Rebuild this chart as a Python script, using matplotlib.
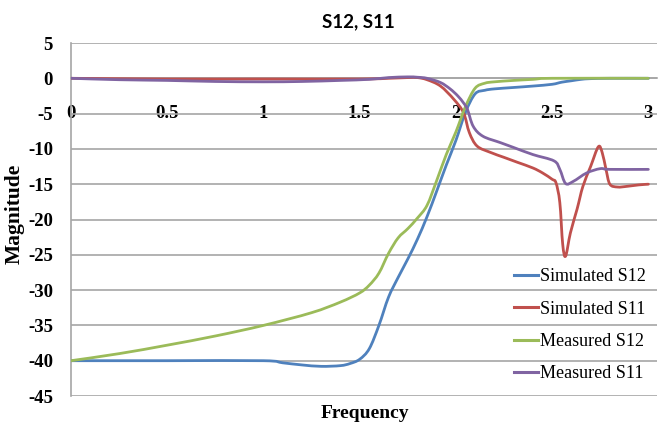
import matplotlib
matplotlib.use("Agg")
import matplotlib.pyplot as plt
from matplotlib.path import Path
from matplotlib.patches import PathPatch
from matplotlib.lines import Line2D

plt.rcParams["axes.unicode_minus"] = False

# ---------------- data ----------------
sim_s12_f = [0, 0.5, 1.0, 1.1, 1.2, 1.3, 1.4, 1.45, 1.5, 1.55, 1.6, 1.65, 1.7, 1.75, 1.8, 1.85, 1.9, 1.95,
             2.0, 2.05, 2.1, 2.15, 2.2, 2.3, 2.4, 2.5, 2.55, 2.6, 2.65, 2.7, 2.8, 3.0]
sim_s12_v = [-40, -40, -40, -40.3, -40.6, -40.8, -40.7, -40.4, -39.8, -38.3, -35.0, -31.0, -28.2, -25.6, -22.8, -19.6,
             -16.0, -12.3, -8.8, -4.8, -2.2, -1.7, -1.5, -1.3, -1.1, -0.85, -0.55, -0.35, -0.15, -0.05, 0, 0]

sim_s11_f = [0, 0.5, 1.0, 1.5, 1.65, 1.75, 1.8, 1.85, 1.92, 1.99, 2.04, 2.07, 2.11, 2.18, 2.25, 2.32, 2.4, 2.45,
             2.5, 2.52, 2.54, 2.555, 2.57, 2.595, 2.63, 2.66, 2.7, 2.74, 2.76, 2.78, 2.8, 2.84, 2.89, 2.95, 3.0]
sim_s11_v = [0, -0.1, -0.1, -0.1, 0, 0.1, 0.1, -0.2, -1.1, -3, -4.9, -7.7, -9.6, -10.5, -11.2, -11.9, -12.7, -13.4,
             -14.3, -14.8, -17.6, -23.5, -25.2, -21.9, -18.5, -15.3, -12.5, -9.7, -10.5, -12.9, -15.0, -15.4, -15.3, -15.1, -15.0]

meas_s12_f = [0, 0.25, 0.5, 0.75, 1.0, 1.25, 1.4, 1.5, 1.55, 1.6, 1.65, 1.7, 1.75, 1.8, 1.85, 1.9, 1.95,
              2.0, 2.05, 2.1, 2.15, 2.2, 2.3, 2.4, 2.5, 3.0]
meas_s12_v = [-40, -39.0, -37.8, -36.5, -35.0, -33.2, -31.7, -30.4, -29.3, -27.6, -24.8, -22.6, -21.3, -19.8, -18.0,
              -14.5, -10.8, -7.6, -4.0, -1.4, -0.7, -0.5, -0.3, -0.15, 0, 0]

meas_s11_f = [0, 0.25, 0.5, 0.75, 1.0, 1.2, 1.4, 1.55, 1.65, 1.75, 1.8, 1.85, 1.92, 1.97, 2.01, 2.04, 2.06, 2.09,
              2.14, 2.23, 2.3, 2.4, 2.51, 2.54, 2.57, 2.61, 2.68, 2.75, 2.8, 3.0]
meas_s11_v = [0, -0.2, -0.3, -0.45, -0.5, -0.45, -0.3, -0.15, 0.1, 0.2, 0.15, 0, -0.6, -1.5, -2.5, -3.5, -4.4, -6.8,
              -8.2, -9.1, -9.8, -10.8, -11.7, -12.9, -14.9, -14.6, -13.4, -12.8, -12.9, -12.9]

series_labels = ["Simulated S12", "Simulated S11", "Measured S12", "Measured S11"]
series_colors = ["#4f81bd", "#c0504d", "#9bbb59", "#8064a2"]
x_ticks = [0, 0.5, 1, 1.5, 2, 2.5, 3]
x_tick_labels = ["0", "0.5", "1", "1.5", "2", "2.5", "3"]
y_ticks = [5, 0, -5, -10, -15, -20, -25, -30, -35, -40, -45]


def smooth_path(xs, ys):
    """Excel-style smoothed line: cubic Bezier through the given points."""
    pts = list(zip(xs, ys))
    n = len(pts)
    verts = [pts[0]]
    codes = [Path.MOVETO]
    for i in range(n - 1):
        p0 = pts[i - 1] if i > 0 else pts[i]
        p1 = pts[i]
        p2 = pts[i + 1]
        p3 = pts[i + 2] if i + 2 < n else pts[i + 1]
        c1 = (p1[0] + (p2[0] - p0[0]) / 6, p1[1] + (p2[1] - p0[1]) / 6)
        c2 = (p2[0] - (p3[0] - p1[0]) / 6, p2[1] - (p3[1] - p1[1]) / 6)
        verts += [c1, c2, p2]
        codes += [Path.CURVE4] * 3
    return Path(verts, codes)


# ---------------- figure ----------------
fig = plt.figure(figsize=(6.59, 4.25), dpi=100)
ax = fig.add_axes([71/659, 1-396/425, (657-71)/659, (396-43)/425])

serif = "Liberation Serif"
handles = []
for f, v, lab, col in zip([sim_s12_f, sim_s11_f, meas_s12_f, meas_s11_f],
                          [sim_s12_v, sim_s11_v, meas_s12_v, meas_s11_v],
                          series_labels, series_colors):
    patch = PathPatch(smooth_path(f, v), facecolor="none", edgecolor=col, lw=2.0,
                      capstyle="round", joinstyle="round", zorder=3, transform=ax.transData)
    ax.add_patch(patch)
    handles.append(Line2D([], [], color=col, lw=2.2, label=lab))

ax.set_xlim(0, 3.045)
ax.set_ylim(-45, 5)
ax.set_yticks(y_ticks)
ax.set_xticks(x_ticks)
ax.set_xticklabels(x_tick_labels)

ax.grid(axis="y", color="#a6a6a6", lw=1.2, zorder=0)
ax.grid(axis="x", visible=False)

for s in ["top", "right"]:
    ax.spines[s].set_visible(False)
ax.spines["left"].set_color("#a6a6a6")
ax.spines["left"].set_linewidth(1.2)
ax.spines["bottom"].set_position(("data", 0))
ax.spines["bottom"].set_color("#a6a6a6")
ax.spines["bottom"].set_linewidth(1.2)

ax.tick_params(axis="x", length=0, pad=19)
ax.tick_params(axis="y", length=0, pad=13)
for lbl in ax.get_xticklabels() + ax.get_yticklabels():
    lbl.set_fontfamily(serif)
    lbl.set_fontweight("bold")
    lbl.set_fontsize(13.5)

fig.text(358/659, 1-22/425, "S12, S11", ha="center", va="center",
         fontsize=13.5, fontweight="bold", family="Lato")
fig.text(365/659, 1-413/425, "Frequency", ha="center", va="center",
         fontsize=14, fontweight="bold", family=serif)
fig.text(15/659, 1-214/425, "Magnitude", ha="center", va="center", rotation=90,
         fontsize=15.5, fontweight="bold", family=serif)

leg = ax.legend(handles=handles, loc="lower right", bbox_to_anchor=(1.0, 0.008), frameon=False,
                prop={"family": serif, "size": 13}, handlelength=1.3,
                handletextpad=0.15, labelspacing=0.85, borderaxespad=0.2)

fig.savefig("out.png", dpi=100)
